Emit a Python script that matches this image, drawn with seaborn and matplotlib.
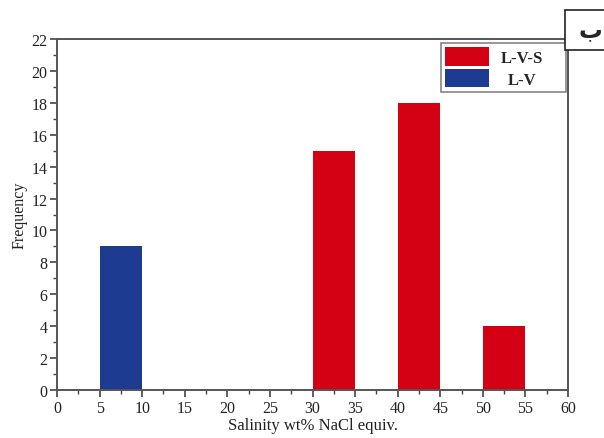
import matplotlib
matplotlib.use("Agg")
import matplotlib.pyplot as plt
import matplotlib.transforms as mtransforms
import seaborn as sns
import pandas as pd
from matplotlib.patches import Patch, Rectangle

# Data
bin_centers = [7.5, 32.5, 42.5, 52.5]
frequency = [9, 15, 18, 4]
inclusion_type = ["L-V", "L-V-S", "L-V-S", "L-V-S"]
legend_labels = ["L-V-S", "L-V"]
x_ticks = list(range(0, 61, 5))
y_ticks = list(range(0, 23, 2))

df = pd.DataFrame({"salinity": bin_centers, "freq": frequency, "type": inclusion_type})

sns.set_style("ticks")
plt.rcParams["font.family"] = ["Liberation Serif", "DejaVu Serif"]

red = "#d40014"
blue = "#1d3b91"

fig = plt.figure(figsize=(6.04, 4.39), dpi=100)
ax = fig.add_axes([0.0944, 0.1093, 0.846, 0.7996])

sns.histplot(data=df, x="salinity", weights="freq", hue="type",
             bins=x_ticks, multiple="layer", element="bars",
             palette={"L-V-S": red, "L-V": blue}, alpha=1, linewidth=0,
             legend=False, ax=ax)

ax.set_xlim(0, 60)
ax.set_ylim(0, 22)
ax.set_xticks(x_ticks)
ax.set_yticks(y_ticks)
ax.set_xticks([x + 2.5 for x in x_ticks[:-1]], minor=True)
ax.set_yticks([y + 1 for y in y_ticks[:-1]], minor=True)
ax.tick_params(which="major", direction="out", length=5, width=1.2, colors="#444444",
               labelsize=11.5, labelcolor="#222222", pad=2)
ax.tick_params(which="minor", direction="out", length=3, width=1.0, colors="#444444")
for s in ax.spines.values():
    s.set_visible(True)
    s.set_color("#555555")
    s.set_linewidth(1.4)
ax.set_xlabel("Salinity wt% NaCl equiv.", fontsize=12, color="#222222", labelpad=1)
ax.set_ylabel("Frequency", fontsize=11.5, color="#222222", labelpad=3)

EXTRA = 18  # extra right padding inside the legend frame, px
ax_w_px = 0.846 * 604
handles = [Patch(facecolor=red, edgecolor="none", label=legend_labels[0]),
           Patch(facecolor=blue, edgecolor="none", label=legend_labels[1])]
leg = ax.legend(handles=handles, loc="upper right",
                bbox_to_anchor=(1 - (2 + EXTRA) / ax_w_px, 1 - 4 / (0.7996 * 439)),
                prop={"family": "Liberation Serif", "weight": "bold", "size": 12},
                frameon=True, fancybox=False, handlelength=2.6, handleheight=1.3,
                borderpad=0.27, labelspacing=0.18, handletextpad=0.75, borderaxespad=0)
leg.get_frame().set_edgecolor("#666666")
leg.get_frame().set_linewidth(1.2)
texts = leg.get_texts()
fig.canvas.draw()
r = fig.canvas.get_renderer()
widths = [t.get_window_extent(r).width for t in texts]
wmax = max(widths)
for t, w in zip(texts, widths):
    t.set_transform(t.get_transform() + mtransforms.Affine2D().translate((wmax - w) / 2, 0))
frame = leg.get_frame()

def _draw_frame_wider(orig_draw):
    def draw(renderer):
        x, y = frame.get_x(), frame.get_y()
        w, h = frame.get_width(), frame.get_height()
        frame.set_bounds(x, y, w + EXTRA, h)
        orig_draw(renderer)
        frame.set_bounds(x, y, w, h)
    return draw

frame.draw = _draw_frame_wider(frame.draw)

# Panel label box (top right, partially cut)
fig.patches.append(Rectangle((565 / 604, 1 - 51 / 439), 0.2, 40 / 439,
                             transform=fig.transFigure, facecolor="white",
                             edgecolor="#222222", linewidth=1.2, zorder=5))
fig.text(590 / 604, 1 - 30 / 439, "ب", family=["DejaVu Sans"], fontweight="bold",
         fontsize=17, ha="center", va="center", zorder=6)

fig.savefig("out.png", dpi=100)
